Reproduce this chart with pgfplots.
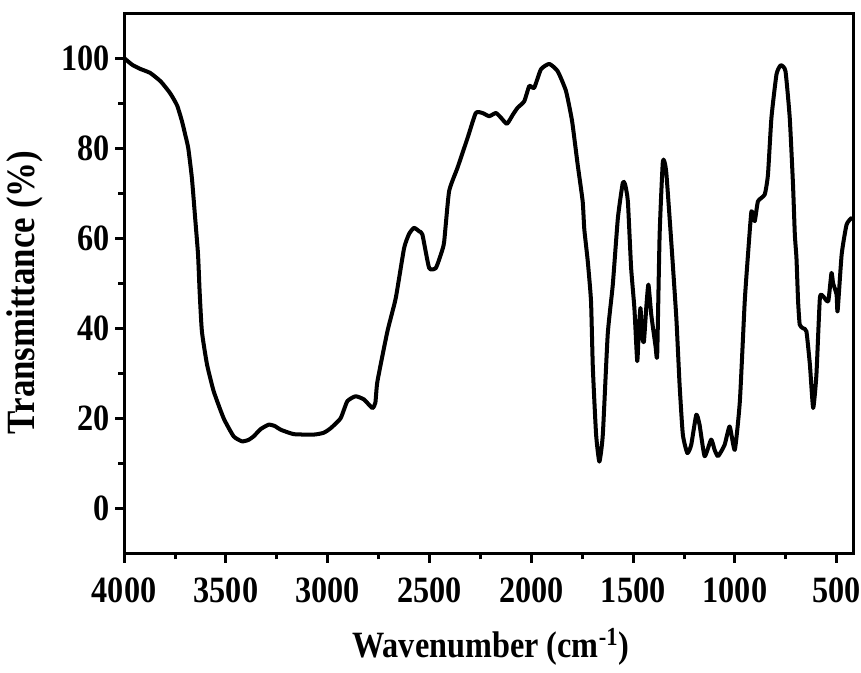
\documentclass[border=0pt]{standalone}
\usepackage{fontspec}
\setmainfont{Liberation Serif}[FakeStretch=0.87]
\usepackage{pgfplots}
\pgfplotsset{compat=1.18}
\begin{document}
\begin{tikzpicture}
\begin{axis}[
  scale only axis,
  width=363.5pt, height=269.5pt,
  x dir=reverse,
  xmin=420, xmax=4000,
  ymin=-10, ymax=110,
  xtick={500,1000,...,4000},
  ytick={0,20,...,100},
  minor x tick num=1,
  minor y tick num=1,
  tick align=outside,
  xtick pos=bottom, ytick pos=left,
  major tick length=4.5pt,
  minor tick length=3pt,
  axis line style={line width=1.5pt},
  every tick/.style={line width=1.5pt, black},
  /pgf/number format/assume math mode=true,
  /pgf/number format/1000 sep={},
  tick label style={font=\fontsize{18.5}{21}\selectfont\bfseries},
  xticklabel style={yshift=-4pt, inner xsep=0pt},
  yticklabel style={xshift=1pt},
  xlabel={Wavenumber (cm\textsuperscript{-1})},
  ylabel={Transmittance (\%)},
  xlabel style={font=\fontsize{18.5}{21}\selectfont\bfseries,
    at={(axis description cs:0.503,0)}, anchor=base, yshift=-52pt},
  ylabel style={font=\fontsize{20}{23}\selectfont\bfseries,
    at={(axis description cs:0,0.483)}, anchor=center, yshift=49.5pt},
]
\addplot[black, line width=2pt, line join=round, smooth, tension=0.3] coordinates {
(4000,100) (3960,98.5) (3921,97.6) (3872,96.7) (3820,94.8) (3774,92.2)
(3740,89.5) (3716,86) (3700,83) (3685,80) (3667,73.3) (3651,64.4)
(3637,56.4) (3629,48) (3618,39.3) (3593,32) (3560,26) (3511,20)
(3462,16) (3421,14.9) (3390,15.2) (3364,16) (3330,17.6) (3290,18.6)
(3260,18.3) (3232,17.5) (3167,16.5) (3068,16.4) (3020,16.8) (2986,17.8)
(2937,20) (2904,23.8) (2863,24.9) (2822,24.2) (2781,22.3) (2766,23.5)
(2756,28.2) (2707,39.3) (2666,46.7) (2625,57.8) (2600,61) (2576,62.3)
(2550,61.5) (2535,60.8) (2502,53.4) (2469,53.4) (2440,57) (2428,59.3)
(2404,70.4) (2363,75.6) (2313,82.3) (2273,87.8) (2240,87.8) (2207,87.1)
(2174,87.8) (2150,86.8) (2120,85.4) (2090,87.5) (2067,89) (2035,90.4)
(2010,93.8) (1986,93.4) (1953,97.5) (1912,98.7) (1871,97.1) (1830,92.7)
(1800,86) (1773,76.5) (1748,68.2) (1740,62) (1723,54.9) (1707,46)
(1698,31.2) (1682,16.4) (1666,10.4) (1649,16.4) (1625,38.6) (1600,49.7)
(1575,64.5) (1551,72.3) (1540,72) (1526,68.2) (1510,53.4) (1494,44.5)
(1480,32.7) (1472,40) (1464,44.5) (1455,38) (1447,37.1) (1435,45)
(1425,49.7) (1411,43) (1390,36) (1382,34.1) (1370,60.8) (1354,77.1)
(1338,74.9) (1313,59.3) (1288,42.3) (1272,27.5) (1256,16.4) (1234,12.3)
(1215,14.1) (1190,20.8) (1174,18.6) (1149,11.6) (1117,15.3) (1100,13)
(1083,11.6) (1051,14.1) (1026,18.2) (1001,13) (976,23.8) (952,46)
(935,57) (919,66) (903,63.8) (887,68.2) (854,69.7) (838,74.1)
(821,86.7) (796,96.4) (775,98.4) (752,97.1) (731,86.7) (715,71.9)
(706,60.8) (698,55.6) (690,46) (682,40.8) (665,40) (649,39.3)
(632,31.9) (616,22.3) (600,29.7) (583,46.7) (567,47.1) (542,46)
(526,52.3) (518,50) (501,47.5) (496,43.8) (476,56.4) (452,63)
(427,64.5) (420,64)
};
\end{axis}
\path ([yshift=6.5pt]current axis.north);
\end{tikzpicture}
\end{document}
